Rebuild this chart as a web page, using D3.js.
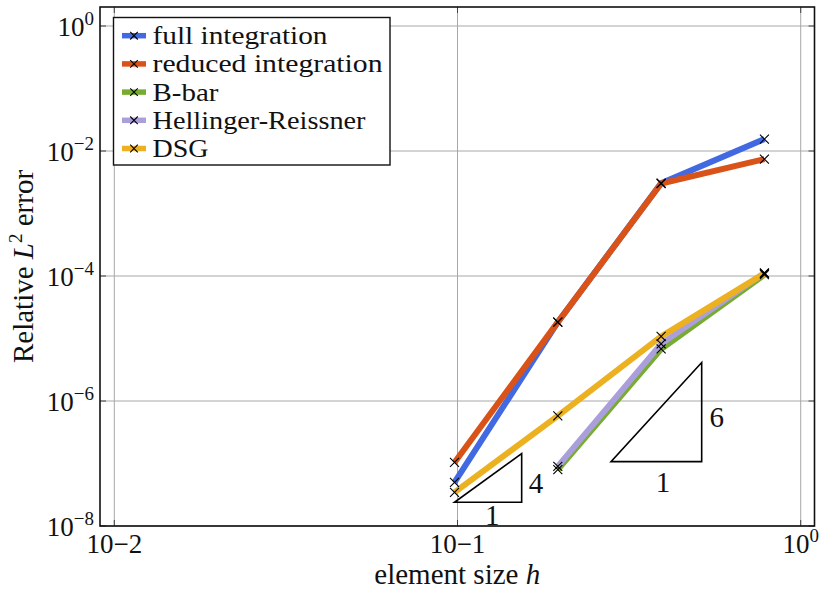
<!DOCTYPE html>
<html>
<head>
<meta charset="utf-8">
<script src="https://cdn.jsdelivr.net/npm/d3@7/dist/d3.min.js"></script>
<style>
  html, body { margin: 0; padding: 0; background: #fff; }
  svg text { font-family: "Liberation Serif", "DejaVu Serif", serif; }
</style>
</head>
<body>
<svg id="chart" width="830" height="595"></svg>
<script>
// ---- data ----
const hAll = [0.098, 0.196, 0.392, 0.784];
const hFine3 = [0.196, 0.392, 0.784];
const fullIntegration = [5.0e-8, 1.83e-5, 3.06e-3, 1.55e-2];
const reducedIntegration = [1.04e-7, 1.83e-5, 3.02e-3, 7.4e-3];
const bBar = [8.0e-8, 6.8e-6, 1.05e-4];
const hellingerReissner = [9.0e-8, 8.2e-6, 1.12e-4];
const dsg = [3.46e-8, 5.8e-7, 1.08e-5, 1.1e-4];
const seriesNames = ["full integration", "reduced integration", "B-bar", "Hellinger-Reissner", "DSG"];
const legendWidths = [175, 230, 66, 213, 56];
const seriesColors = ["#4169e1", "#d95319", "#77ac30", "#ab9fdb", "#ecb120"];
const xTickValues = [0.01, 0.1, 1];
const xTickExp = ["−2", "−1", "0"];
const yTickValues = [1, 1e-2, 1e-4, 1e-6, 1e-8];
const yTickExp = ["0", "−2", "−4", "−6", "−8"];
// slope triangles (data coordinates) and their labels
const triangle4 = [[0.098, 2.4e-8], [0.1538, 2.4e-8], [0.1538, 1.44e-7]];
const triangle6 = [[0.28, 1.07e-7], [0.5146, 1.07e-7], [0.5146, 4.14e-6]];
const slopeLabels = [
  {t: "4", x: 0.1693, y: 4.88e-8},
  {t: "1", x: 0.1263, y: 1.5e-8},
  {t: "6", x: 0.569, y: 5.61e-7},
  {t: "1", x: 0.397, y: 5.11e-8}
];

const series = [
  {x: hAll, y: fullIntegration},
  {x: hAll, y: reducedIntegration},
  {x: hFine3, y: bBar},
  {x: hFine3, y: hellingerReissner},
  {x: hAll, y: dsg}
].map((s, i) => ({name: seriesNames[i], color: seriesColors[i], w: legendWidths[i], pts: s.x.map((v, j) => [v, s.y[j]])}));

// ---- layout ----
const L = 100, R = 814.5, T = 7, B = 526;
const svg = d3.select("#chart");
const x = d3.scaleLog().domain([Math.pow(10, -2.0417), Math.pow(10, 0.0402)]).range([L, R]);
const y = d3.scaleLog().domain([1e-8, Math.pow(10, 0.304)]).range([B, T]);

// grid
const grid = svg.append("g");
grid.selectAll("line.gx").data(xTickValues).enter().append("line")
  .attr("x1", d => x(d)).attr("x2", d => x(d)).attr("y1", T).attr("y2", B)
  .attr("stroke", "#a8a8a8").attr("stroke-width", 1);
grid.selectAll("line.gy").data(yTickValues).enter().append("line")
  .attr("x1", L).attr("x2", R).attr("y1", d => y(d)).attr("y2", d => y(d))
  .attr("stroke", "#a8a8a8").attr("stroke-width", 1);

// inward ticks
const tk = 6;
const ticks = svg.append("g").attr("stroke", "#444").attr("stroke-width", 1);
xTickValues.forEach(v => {
  ticks.append("line").attr("x1", x(v)).attr("x2", x(v)).attr("y1", B).attr("y2", B - tk);
  ticks.append("line").attr("x1", x(v)).attr("x2", x(v)).attr("y1", T).attr("y2", T + tk);
});
yTickValues.forEach(v => {
  ticks.append("line").attr("x1", L).attr("x2", L + tk).attr("y1", y(v)).attr("y2", y(v));
  ticks.append("line").attr("x1", R).attr("x2", R - tk).attr("y1", y(v)).attr("y2", y(v));
});

// tick labels
const xl = svg.append("g").attr("font-size", 27).attr("fill", "#111");
xTickValues.forEach((v, i) => {
  const t = xl.append("text").attr("x", x(v)).attr("y", 553).attr("text-anchor", "middle");
  if (xTickExp[i] === "0") {
    t.append("tspan").text("10");
    t.append("tspan").attr("font-size", 19).attr("dy", -11).text(xTickExp[i]);
  } else {
    t.text("10" + xTickExp[i]);
  }
});
const yl = svg.append("g").attr("font-size", 27).attr("fill", "#111");
yTickValues.forEach((v, i) => {
  const t = yl.append("text").attr("x", 94).attr("y", y(v) + 10).attr("text-anchor", "end");
  t.append("tspan").text("10");
  t.append("tspan").attr("font-size", 19).attr("dy", -11).text(yTickExp[i]);
});

// axis titles
svg.append("text").attr("x", (L + R) / 2).attr("y", 584).attr("text-anchor", "middle")
  .attr("font-size", 29).attr("fill", "#111")
  .html('element size <tspan font-style="italic">h</tspan>');
const ylab = svg.append("text").attr("transform", `translate(33,${(T + B) / 2}) rotate(-90)`)
  .attr("text-anchor", "middle").attr("font-size", 29).attr("fill", "#111");
ylab.append("tspan").text("Relative ");
ylab.append("tspan").attr("font-style", "italic").text("L");
ylab.append("tspan").attr("font-size", 19).attr("dy", -11).text("2");
ylab.append("tspan").attr("dy", 11).text(" error");

// series
const line = d3.line().x(d => x(d[0])).y(d => y(d[1]));
const plot = svg.append("g");
series.forEach(s => {
  plot.append("path").attr("d", line(s.pts)).attr("fill", "none")
    .attr("stroke", s.color).attr("stroke-width", 6);
});
const mk = 4.5;
series.forEach(s => {
  plot.selectAll(null).data(s.pts).enter().append("path")
    .attr("d", d => {
      const cx = x(d[0]), cy = y(d[1]);
      return `M${cx - mk},${cy - mk}L${cx + mk},${cy + mk}M${cx - mk},${cy + mk}L${cx + mk},${cy - mk}`;
    })
    .attr("stroke", "#000").attr("stroke-width", 1.1).attr("fill", "none");
});

// slope triangles
[triangle4, triangle6].forEach(tri => {
  svg.append("path").attr("d", "M" + tri.map(p => `${x(p[0])},${y(p[1])}`).join("L") + "Z")
    .attr("fill", "none").attr("stroke", "#000").attr("stroke-width", 1.6);
});
svg.selectAll("text.slope").data(slopeLabels).enter().append("text")
  .attr("x", d => x(d.x)).attr("y", d => y(d.y) + 10).attr("text-anchor", "middle")
  .attr("font-size", 29).attr("fill", "#111")
  .text(d => d.t);

// frame
svg.append("rect").attr("x", L).attr("y", T).attr("width", R - L).attr("height", B - T)
  .attr("fill", "none").attr("stroke", "#111").attr("stroke-width", 1.6);

// legend
const lg = svg.append("g");
lg.append("rect").attr("x", 113.5).attr("y", 17.5).attr("width", 276.5).attr("height", 147.5)
  .attr("fill", "#fff").attr("stroke", "#111").attr("stroke-width", 1.4);
series.forEach((s, i) => {
  const cy = 35.7 + i * 28.2;
  lg.append("line").attr("x1", 122).attr("x2", 146).attr("y1", cy).attr("y2", cy)
    .attr("stroke", s.color).attr("stroke-width", 5.5);
  const m = 3.8, cx = 134;
  lg.append("path").attr("d", `M${cx - m},${cy - m}L${cx + m},${cy + m}M${cx - m},${cy + m}L${cx + m},${cy - m}`)
    .attr("stroke", "#000").attr("stroke-width", 1.1);
  lg.append("text").attr("x", 152.5).attr("y", cy + 8.5).attr("font-size", 25)
    .attr("textLength", s.w).attr("lengthAdjust", "spacingAndGlyphs")
    .attr("fill", "#111").text(s.name);
});
</script>
</body>
</html>
